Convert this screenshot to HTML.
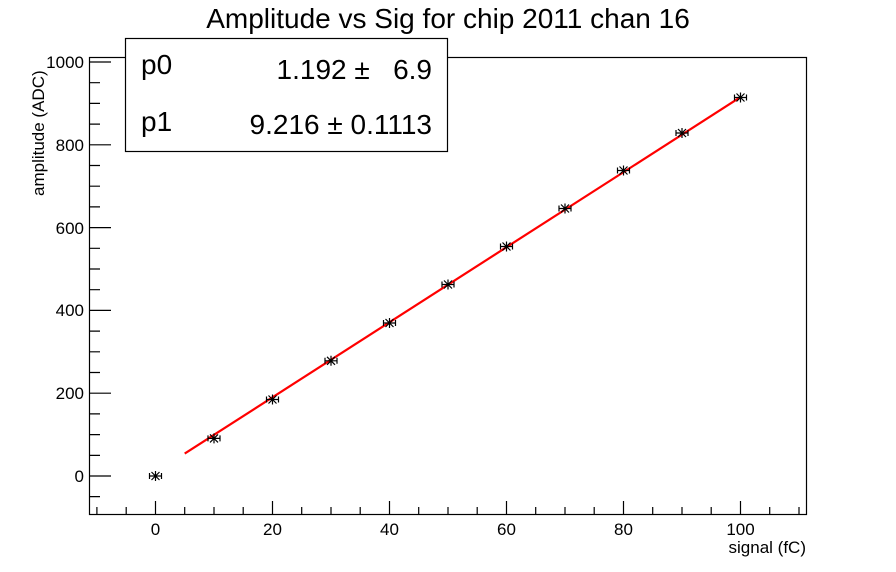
<!DOCTYPE html>
<html><head><style>body{margin:0;background:#fff}svg{display:block}text{font-family:"Liberation Sans",sans-serif}</style></head>
<body>
<svg width="896" height="572" xmlns="http://www.w3.org/2000/svg">
<rect width="896" height="572" fill="#fff"/>
<text x="448" y="28" font-size="28" text-anchor="middle">Amplitude vs Sig for chip 2011 chan 16</text>
<rect x="89.5" y="57.5" width="717" height="457" fill="none" stroke="#000" stroke-width="1.2"/>
<g stroke="#000" stroke-width="1.2">
<path d="M96.9 514v-7M126.2 514v-7M155.5 514v-13M184.7 514v-7M214 514v-7M243.2 514v-7M272.5 514v-13M301.7 514v-7M331 514v-7M360.2 514v-7M389.5 514v-13M418.7 514v-7M448 514v-7M477.2 514v-7M506.5 514v-13M535.7 514v-7M565 514v-7M594.2 514v-7M623.5 514v-13M652.7 514v-7M682 514v-7M711.2 514v-7M740.5 514v-13M769.7 514v-7M799 514v-7"/>
<path d="M89 496.6h11M89 476h22M89 455.4h11M89 434.6h11M89 413.9h11M89 393.2h22M89 372.5h11M89 351.8h11M89 331.1h11M89 310.4h22M89 289.7h11M89 269h11M89 248.3h11M89 227.6h22M89 206.9h11M89 186.2h11M89 165.5h11M89 144.8h22M89 124.1h11M89 103.4h11M89 82.7h11M89 62h22"/>
</g>
<g font-size="17" text-anchor="middle">
<text x="155.5" y="535">0</text><text x="272.5" y="535">20</text><text x="389.5" y="535">40</text><text x="506.5" y="535">60</text><text x="623.5" y="535">80</text><text x="740.5" y="535">100</text>
</g>
<g font-size="17" text-anchor="end">
<text x="84" y="482">0</text><text x="84" y="399">200</text><text x="84" y="316">400</text><text x="84" y="234">600</text><text x="84" y="151">800</text><text x="84" y="68">1000</text>
</g>
<text x="806" y="553" font-size="17" text-anchor="end">signal (fC)</text>
<text transform="translate(44,196) rotate(-90)" font-size="17">amplitude (ADC)</text>
<line x1="184.7" y1="453.6" x2="740.5" y2="97.1" stroke="#f00" stroke-width="2.2"/>
<g stroke="#000" stroke-width="1.2" fill="none">
<g transform="translate(155.5,476)"><path d="M-6 0h12M-6 -3v6M6 -3v6M-4 -4l8 8M-4 4l8 -8M0 -5v10"/></g>
<g transform="translate(214,438.4)"><path d="M-6 0h12M-6 -3v6M6 -3v6M-4 -4l8 8M-4 4l8 -8M0 -5v10"/></g>
<g transform="translate(272.5,399.5)"><path d="M-6 0h12M-6 -3v6M6 -3v6M-4 -4l8 8M-4 4l8 -8M0 -5v10"/></g>
<g transform="translate(331,360.8)"><path d="M-6 0h12M-6 -3v6M6 -3v6M-4 -4l8 8M-4 4l8 -8M0 -5v10"/></g>
<g transform="translate(389.5,323)"><path d="M-6 0h12M-6 -3v6M6 -3v6M-4 -4l8 8M-4 4l8 -8M0 -5v10"/></g>
<g transform="translate(448,284.5)"><path d="M-6 0h12M-6 -3v6M6 -3v6M-4 -4l8 8M-4 4l8 -8M0 -5v10"/></g>
<g transform="translate(506.5,246.5)"><path d="M-6 0h12M-6 -3v6M6 -3v6M-4 -4l8 8M-4 4l8 -8M0 -5v10"/></g>
<g transform="translate(565,208.5)"><path d="M-6 0h12M-6 -3v6M6 -3v6M-4 -4l8 8M-4 4l8 -8M0 -5v10"/></g>
<g transform="translate(623.5,170.5)"><path d="M-6 0h12M-6 -3v6M6 -3v6M-4 -4l8 8M-4 4l8 -8M0 -5v10"/></g>
<g transform="translate(682,133)"><path d="M-6 0h12M-6 -3v6M6 -3v6M-4 -4l8 8M-4 4l8 -8M0 -5v10"/></g>
<g transform="translate(740.5,97.5)"><path d="M-6 0h12M-6 -3v6M6 -3v6M-4 -4l8 8M-4 4l8 -8M0 -5v10"/></g>
</g>
<rect x="125.5" y="38.5" width="322" height="113" fill="#fff" stroke="#000" stroke-width="1.2"/>
<g font-size="28">
<text x="141" y="74">p0</text><text x="432" y="79" text-anchor="end" xml:space="preserve">1.192 ±   6.9</text>
<text x="141" y="131">p1</text><text x="432" y="134" text-anchor="end">9.216 ± 0.1113</text>
</g>
</svg>
</body></html>
